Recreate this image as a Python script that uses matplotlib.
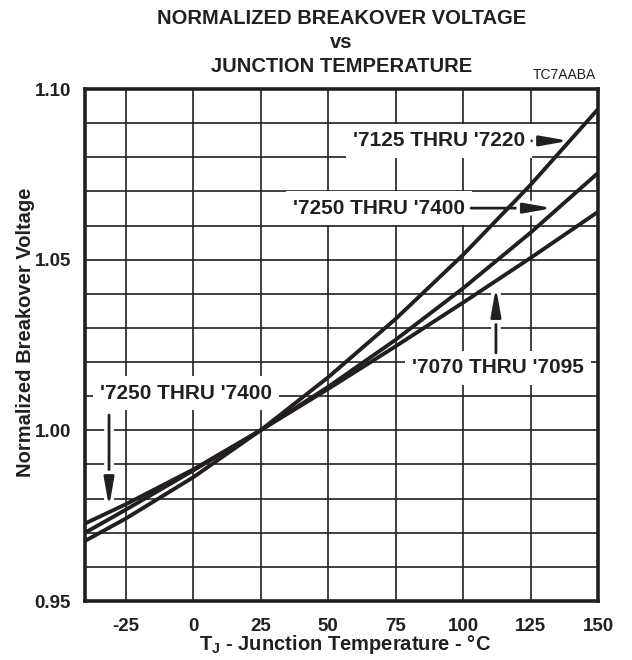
import matplotlib
matplotlib.use('Agg')
from matplotlib import pyplot as plt
from matplotlib import patheffects as pe

plt.rcParams['font.family'] = ['Liberation Sans', 'DejaVu Sans']
plt.rcParams['mathtext.fontset'] = 'custom'
plt.rcParams['mathtext.rm'] = 'Liberation Sans:bold'

INK = '#231f20'

# junction temperature (deg C) and normalized breakover voltage
temps = [-40, -25, 0, 25, 50, 75, 100, 125, 150]
v_7125_7220 = [0.9676, 0.9741, 0.9862, 1.0, 1.0155, 1.0326, 1.0514, 1.0719, 1.0941]
v_7250_7400 = [0.9727, 0.9783, 0.9885, 1.0, 1.0127, 1.0265, 1.0416, 1.0579, 1.0754]
v_7070_7095 = [0.9700, 0.9767, 0.9882, 1.0, 1.0121, 1.0246, 1.0374, 1.0505, 1.0640]

x_ticks = [-25, 0, 25, 50, 75, 100, 125, 150]
y_ticks = [0.95, 1.00, 1.05, 1.10]
y_minor = [0.96, 0.97, 0.98, 0.99, 1.01, 1.02, 1.03, 1.04, 1.06, 1.07, 1.08, 1.09]


def add_label(ax, text, xy, ha='center'):
    ax.text(xy[0], xy[1], text, ha=ha, va='center', fontsize=15,
            fontweight='bold', color=INK, zorder=4,
            bbox=dict(boxstyle='square,pad=0.35', fc='white', ec='none'))


def add_arrow(ax, tail, tip):
    ann = ax.annotate('', xy=tip, xytext=tail, zorder=4,
                      arrowprops=dict(arrowstyle='-|>,head_length=0.85,head_width=0.15',
                                      color=INK, lw=2.0, mutation_scale=20,
                                      shrinkA=0, shrinkB=0))
    ann.arrow_patch.set_path_effects([pe.Stroke(linewidth=7, foreground='white'),
                                      pe.Normal()])


def drawGraphic():
    fig = plt.figure(figsize=(6.32, 6.60), dpi=100)
    ax = fig.add_axes([85 / 632, 59 / 660, 513 / 632, 512 / 660])

    for v in (v_7125_7220, v_7250_7400, v_7070_7095):
        ax.plot(temps, v, color=INK, lw=2.8, zorder=5, solid_capstyle='butt')

    ax.set_xlim(-40, 150)
    ax.set_ylim(0.95, 1.10)
    ax.set_xticks(x_ticks)
    ax.set_xticklabels([str(t) for t in x_ticks])
    ax.set_yticks(y_ticks)
    ax.set_yticklabels(['%.2f' % t for t in y_ticks])
    ax.set_yticks(y_minor, minor=True)
    ax.tick_params(which='both', length=0, labelsize=13.5, colors=INK)
    ax.tick_params(axis='x', pad=12)
    ax.tick_params(axis='y', pad=10)
    for lab in ax.get_xticklabels() + ax.get_yticklabels():
        lab.set_fontweight('bold')
    ax.grid(which='both', color=INK, lw=1.2, zorder=1)
    ax.set_axisbelow(True)
    for s in ax.spines.values():
        s.set_linewidth(2.6)
        s.set_color(INK)
        s.set_zorder(6)

    add_label(ax, "'7125 THRU '7220", (123, 1.0848), ha='right')
    add_arrow(ax, (125.5, 1.0848), (139.3, 1.0848))
    add_label(ax, "'7250 THRU '7400", (100.7, 1.0651), ha='right')
    add_arrow(ax, (103.0, 1.0651), (133.3, 1.0651))
    add_label(ax, "'7070 THRU '7095", (113, 1.0183))
    add_arrow(ax, (112.2, 1.0227), (112.2, 1.0420))
    add_label(ax, "'7250 THRU '7400", (-2.6, 1.0109))
    add_arrow(ax, (-31.1, 1.0045), (-31.1, 0.9775))

    ax.set_xlabel(r'T$_{\mathrm{J}}$ - Junction Temperature - °C', fontsize=14.5,
                  fontweight='bold', color=INK)
    ax.xaxis.set_label_coords((345 - 85) / 513, -(633 - 601) / 512)
    ax.set_ylabel('Normalized Breakover Voltage', fontsize=14.5,
                  fontweight='bold', color=INK)
    ax.yaxis.set_label_coords((35 - 85) / 513, (601 - 332) / 512)

    cx = (85 + 598) / 2 / 632
    for i, line in enumerate(['NORMALIZED BREAKOVER VOLTAGE', 'vs', 'JUNCTION TEMPERATURE']):
        fig.text(cx, 1 - (19 + 24 * i) / 660, line, ha='center', va='center',
                 fontsize=14.5, fontweight='bold', color=INK)
    fig.text(596 / 632, 1 - 75 / 660, 'TC7AABA', ha='right', va='center',
             fontsize=10, color=INK)

    fig.savefig('out.png', dpi=100)


if __name__ == '__main__':
    drawGraphic()
